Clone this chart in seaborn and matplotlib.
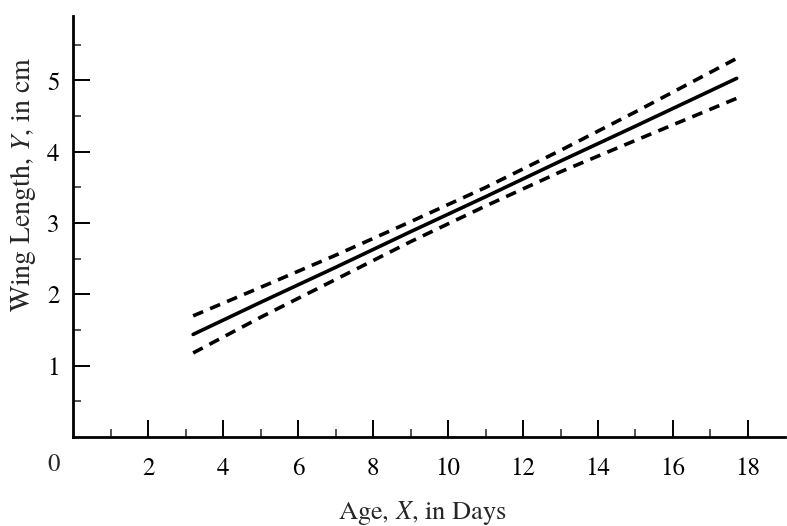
import matplotlib
matplotlib.use("Agg")
import matplotlib.pyplot as plt
import seaborn as sns
import pandas as pd

# Data
age = [3.2, 5, 7, 9, 11, 13, 15, 17.7]
fit = [1.44, 1.89, 2.38, 2.88, 3.37, 3.87, 4.36, 5.03]
upper = [1.70, 2.10, 2.55, 3.02, 3.50, 4.02, 4.56, 5.31]
lower = [1.18, 1.68, 2.21, 2.74, 3.24, 3.72, 4.16, 4.75]
x_ticks = [2, 4, 6, 8, 10, 12, 14, 16, 18]
y_ticks = [1, 2, 3, 4, 5]

sns.set_style("ticks")
plt.rcParams['font.family'] = ['TeX Gyre Termes', 'STIXGeneral', 'DejaVu Serif']
plt.rcParams['mathtext.fontset'] = 'stix'

df = pd.DataFrame({"age": age, "fit": fit, "upper": upper, "lower": lower})

fig = plt.figure(figsize=(7.87, 5.26), dpi=100)
ax = fig.add_axes([0.093, 0.169, 0.905, 0.80])

sns.lineplot(data=df, x="age", y="fit", ax=ax, color="black", lw=2.6)
sns.lineplot(data=df, x="age", y="upper", ax=ax, color="black", lw=2.6,
             linestyle=(0, (3.0, 2.1)))
sns.lineplot(data=df, x="age", y="lower", ax=ax, color="black", lw=2.6,
             linestyle=(0, (3.0, 2.1)))

ax.set_xlim(0, 19.0)
ax.set_ylim(0, 5.9)
ax.set_xticks(x_ticks)
ax.set_xticks([1, 3, 5, 7, 9, 11, 13, 15, 17], minor=True)
ax.set_yticks(y_ticks)
ax.set_yticks([0.5, 1.5, 2.5, 3.5, 4.5, 5.5], minor=True)
ax.set_xticklabels([str(v) for v in x_ticks], fontsize=18)
ax.set_yticklabels([str(v) for v in y_ticks], fontsize=18)

ax.tick_params(axis="x", which="major", direction="in", length=12, width=1.4, pad=14, colors="black")
ax.tick_params(axis="y", which="major", direction="in", length=12, width=1.4, pad=10, colors="black")
ax.tick_params(axis="both", which="minor", direction="in", length=6, width=1.1)

for s in ["top", "right"]:
    ax.spines[s].set_visible(False)
for s in ["left", "bottom"]:
    ax.spines[s].set_linewidth(2.0)
    ax.spines[s].set_color("black")

ax.text(-0.35, -0.22, "0", ha="right", va="top", fontsize=18,
        transform=ax.transData, clip_on=False)

ax.set_xlabel(r"Age, $\mathit{X}$, in Days", fontsize=19)
ax.set_ylabel(r"Wing Length, $\mathit{Y}$, in cm", fontsize=20)
ax.xaxis.set_label_coords(0.49, -0.148)
ax.yaxis.set_label_coords(-0.050, 0.60)

fig.savefig("out.png", dpi=100, facecolor="white")
